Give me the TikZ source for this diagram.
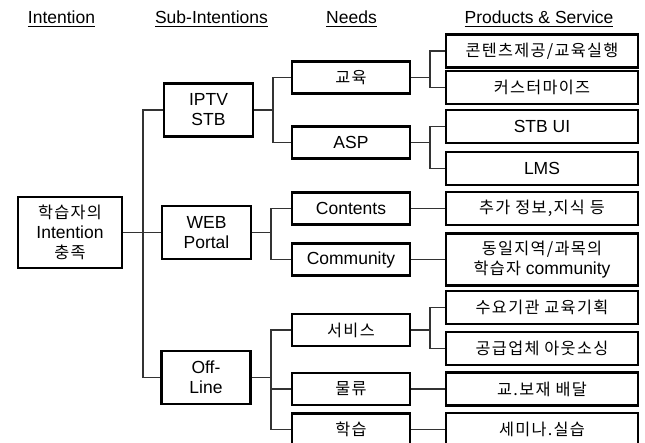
\documentclass[tikz,border=0pt]{standalone}
\usepackage{fontspec}
\setmainfont{Liberation Sans}
\newfontfamily\kr{Noto Sans CJK KR}[Scale=0.93, LetterSpace=8]
\tikzset{
	box/.style={draw, line width=1.1pt, align=center, inner sep=0pt, font=\fontsize{8.75}{10}\selectfont},
	rootbox/.style={box, minimum width=52pt, minimum height=35.5pt},
	subbox/.style={box, minimum width=44.5pt, minimum height=26.5pt},
	needbox/.style={box, minimum width=59pt, minimum height=16pt},
	prodbox/.style={box, minimum width=96pt, minimum height=16.5pt},
	link/.style={draw=black!80, line width=0.7pt},
	head/.style={font=\fontsize{8.75}{10}\selectfont, inner sep=0pt}
}
\begin{document}
	\begin{tikzpicture}[x=0.5pt, y=-0.5pt]
		\useasboundingbox (0,0) rectangle (645,443);
		% column titles
		\node[head] (hint) at (61.5,19) {\underline{Intention}};
		\node[head] (hsub) at (211.5,19) {\underline{Sub-Intentions}};
		\node[head] (hneed) at (351.5,19) {\underline{Needs}};
		\node[head] (hprod) at (539,19) {\underline{Products \& Service}};
		% intention and sub-intentions
		\node[rootbox] (root) at (70,232.5) {\kr 학습자의\\Intention\\\kr 충족};
		\node[subbox] (iptv) at (208.5,110) {IPTV\\STB};
		\node[subbox] (web) at (206.5,232.5) {WEB\\Portal};
		\node[subbox] (off) at (206,377.5) {Off-\\Line};
		% needs
		\node[needbox] (edu) at (351,77.5) {\kr 교육};
		\node[needbox] (asp) at (351,142.5) {ASP};
		\node[needbox] (cont) at (351,208.5) {Contents};
		\node[needbox] (comm) at (351,259.5) {Community};
		\node[needbox] (serv) at (351,330) {\kr 서비스};
		\node[needbox] (logi) at (351,389) {\kr 물류};
		\node[needbox] (study) at (351,429.5) {\kr 학습};
		% products and services
		\node[prodbox] (p1) at (542,51) {\kr 콘텐츠제공/교육실행};
		\node[prodbox] (p2) at (542,87.5) {\kr 커스터마이즈};
		\node[prodbox] (p3) at (542,126.5) {STB UI};
		\node[prodbox] (p4) at (542,168.5) {LMS};
		\node[prodbox] (p5) at (542,208.5) {\kr 추가 정보,지식 등};
		\node[prodbox, minimum height=26pt] (p6) at (542,259.5) {\kr 동일지역/과목의\\{\kr 학습자} community};
		\node[prodbox] (p7) at (542,307.5) {\kr 수요기관 교육기획};
		\node[prodbox] (p8) at (542,348.5) {\kr 공급업체 아웃소싱};
		\node[prodbox] (p9) at (542,389) {\kr 교.보재 배달};
		\node[prodbox] (p10) at (542,429.5) {\kr 세미나.실습};
		% junctions
		\coordinate (j0) at (143,232.5);
		\coordinate (j1) at (273,110);
		\coordinate (j2) at (271,232.5);
		\coordinate (j3) at (271,377.5);
		\coordinate (k1) at (430,77.5);
		\coordinate (k2) at (430,142.5);
		\coordinate (k3) at (430,330);
		% trunk
		\draw[link] (iptv.west) -| (j0) |- (off.west);
		\draw[link] (root.east) -- (web.west);
		% sub-intentions to needs
		\draw[link] (iptv.east) -- (j1);
		\draw[link] (edu.west) -| (j1) |- (asp.west);
		\draw[link] (web.east) -- (j2);
		\draw[link] (cont.west) -| (j2) |- (comm.west);
		\draw[link] (off.east) -- (j3);
		\draw[link] (serv.west) -| (j3) |- (study.west);
		\draw[link] (j3) |- (logi.west);
		% needs to products
		\draw[link] (edu.east) -- (k1);
		\draw[link] (p1.west) -| (k1) |- (p2.west);
		\draw[link] (asp.east) -- (k2);
		\draw[link] (p3.west) -| (k2) |- (p4.west);
		\draw[link] (serv.east) -- (k3);
		\draw[link] (p7.west) -| (k3) |- (p8.west);
		\draw[link] (cont.east) -- (p5.west);
		\draw[link] (comm.east) -- (p6.west);
		\draw[link] (logi.east) -- (p9.west);
		\draw[link] (study.east) -- (p10.west);
	\end{tikzpicture}
\end{document}
